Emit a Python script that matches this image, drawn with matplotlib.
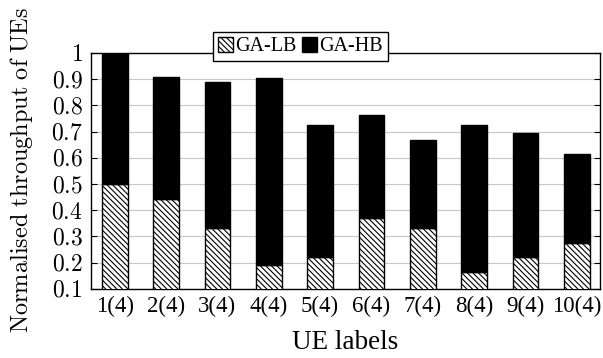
import matplotlib
matplotlib.use("Agg")
import matplotlib.pyplot as plt
import numpy as np

plt.rcParams['font.family'] = ['Liberation Serif', 'DejaVu Serif']
plt.rcParams['hatch.linewidth'] = 0.8
plt.rcParams['mathtext.fontset'] = 'cm'

ue_labels = ["1(4)", "2(4)", "3(4)", "4(4)", "5(4)", "6(4)", "7(4)", "8(4)", "9(4)", "10(4)"]
ga_lb = [0.50, 0.443, 0.331, 0.191, 0.220, 0.372, 0.332, 0.165, 0.220, 0.275]
ga_total = [1.00, 0.908, 0.891, 0.904, 0.725, 0.763, 0.668, 0.725, 0.695, 0.613]
ga_hb = [t - l for t, l in zip(ga_total, ga_lb)]
y_ticks = [0.1, 0.2, 0.3, 0.4, 0.5, 0.6, 0.7, 0.8, 0.9, 1.0]
y_tick_labels = ["0.1", "0.2", "0.3", "0.4", "0.5", "0.6", "0.7", "0.8", "0.9", "1"]

fig = plt.figure(figsize=(6.03, 3.58), dpi=100)
ax = fig.add_axes([0.151, 0.193, 0.844, 0.659])

x = np.arange(len(ue_labels))
w = 0.5
b1 = ax.bar(x, ga_lb, w, color='white', edgecolor='black', hatch='\\\\\\\\\\\\', linewidth=1.0,
            label='GA-LB', zorder=3)
b2 = ax.bar(x, ga_hb, w, bottom=ga_lb, color='black', edgecolor='black', linewidth=1.0,
            label='GA-HB', zorder=3)

ax.set_xlim(-0.46, 9.45)
ax.set_ylim(0.1, 1.0)
ax.set_yticks(y_ticks)
ax.set_yticklabels(["$%s$" % t for t in y_tick_labels])
ax.set_xticks(x)
ax.set_xticklabels(ue_labels)
ax.tick_params(axis='x', length=0, labelsize=16.5, pad=5)
ax.tick_params(axis='y', direction='in', right=True, length=4, labelsize=17, pad=6)
ax.grid(axis='y', color='#c8c8c8', linewidth=0.8, zorder=0)
ax.set_axisbelow(True)
for s in ax.spines.values():
    s.set_linewidth(1.0)

fig.text(0.5 * (0.151 + 0.995), 0.042, "UE labels", fontsize=19.5, ha='center', va='center')
fig.text(0.036, 0.07, r"$\mathrm{Normalised\ throughput\ of\ UEs}$", fontsize=17.5,
         rotation=90, ha='center', va='bottom')

leg = fig.legend(handles=[b1, b2], labels=['GA-LB', 'GA-HB'], loc='center',
                 bbox_to_anchor=(0.498, 0.870), ncol=2, fontsize=14.5,
                 frameon=True, fancybox=False, edgecolor='black', framealpha=1,
                 handlelength=0.75, handleheight=0.8, handletextpad=0.1,
                 columnspacing=0.3, borderpad=0.25, borderaxespad=0)
leg.get_frame().set_linewidth(1.0)
leg.set_zorder(10)

fig.savefig("out.png", dpi=100)
